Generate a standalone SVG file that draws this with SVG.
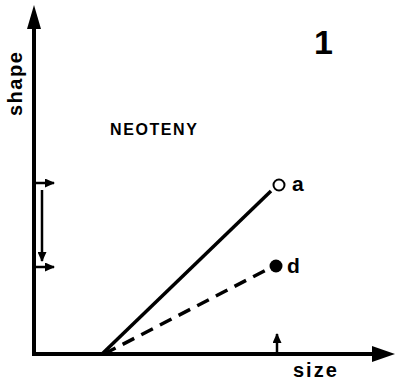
<svg xmlns="http://www.w3.org/2000/svg" width="397" height="386" viewBox="0 0 397 386">
<style>
text{font-family:"Liberation Sans",Arial,sans-serif;font-weight:bold;fill:#000}
.ax{stroke:#000;stroke-width:4;fill:none}
.ln{stroke:#000;stroke-width:3.5;fill:none}
.sm{stroke:#000;stroke-width:2.5;fill:none}
</style>
<defs>
<marker id="ah" markerWidth="10" markerHeight="9" refX="9" refY="4.5" orient="auto" markerUnits="userSpaceOnUse">
<path d="M0,0 L10,4.5 L0,9 Z" fill="#000"/>
</marker>
</defs>
<rect width="397" height="386" fill="#fff"/>
<g id="axes">
<path class="ax" d="M34,26 L34,354 L378,354"/>
<path d="M34,5 L27,29 L41,29 Z" fill="#000"/>
<path d="M395,354 L372,346 L372,362 Z" fill="#000"/>
</g>
<g id="connectors">
<line class="ln" x1="102" y1="354" x2="271" y2="191"/>
<line class="ln" x1="104" y1="354" x2="270" y2="268" stroke-dasharray="13,8"/>
<line class="sm" x1="35" y1="183" x2="54" y2="183" marker-end="url(#ah)"/>
<line class="sm" x1="35" y1="267" x2="54" y2="267" marker-end="url(#ah)"/>
<line class="sm" x1="42" y1="190" x2="42" y2="261" marker-end="url(#ah)"/>
<line class="sm" x1="277" y1="353" x2="277" y2="334" marker-end="url(#ah)"/>
</g>
<g id="node-a">
<circle cx="279" cy="185" r="5.5" fill="#fff" stroke="#000" stroke-width="2"/>
<text x="292" y="191" font-size="21">a</text>
</g>
<g id="node-d">
<circle cx="276" cy="266" r="6.5" fill="#000"/>
<text x="287" y="273" font-size="21">d</text>
</g>
<g id="labels">
<text x="110" y="135" font-size="16" letter-spacing="1.6">NEOTENY</text>
<text x="293" y="377" font-size="20" letter-spacing="2">size</text>
<text transform="translate(22,116) rotate(-90)" font-size="20" letter-spacing="1.5">shape</text>
<text x="314" y="54" font-size="34">1</text>
</g>
</svg>
